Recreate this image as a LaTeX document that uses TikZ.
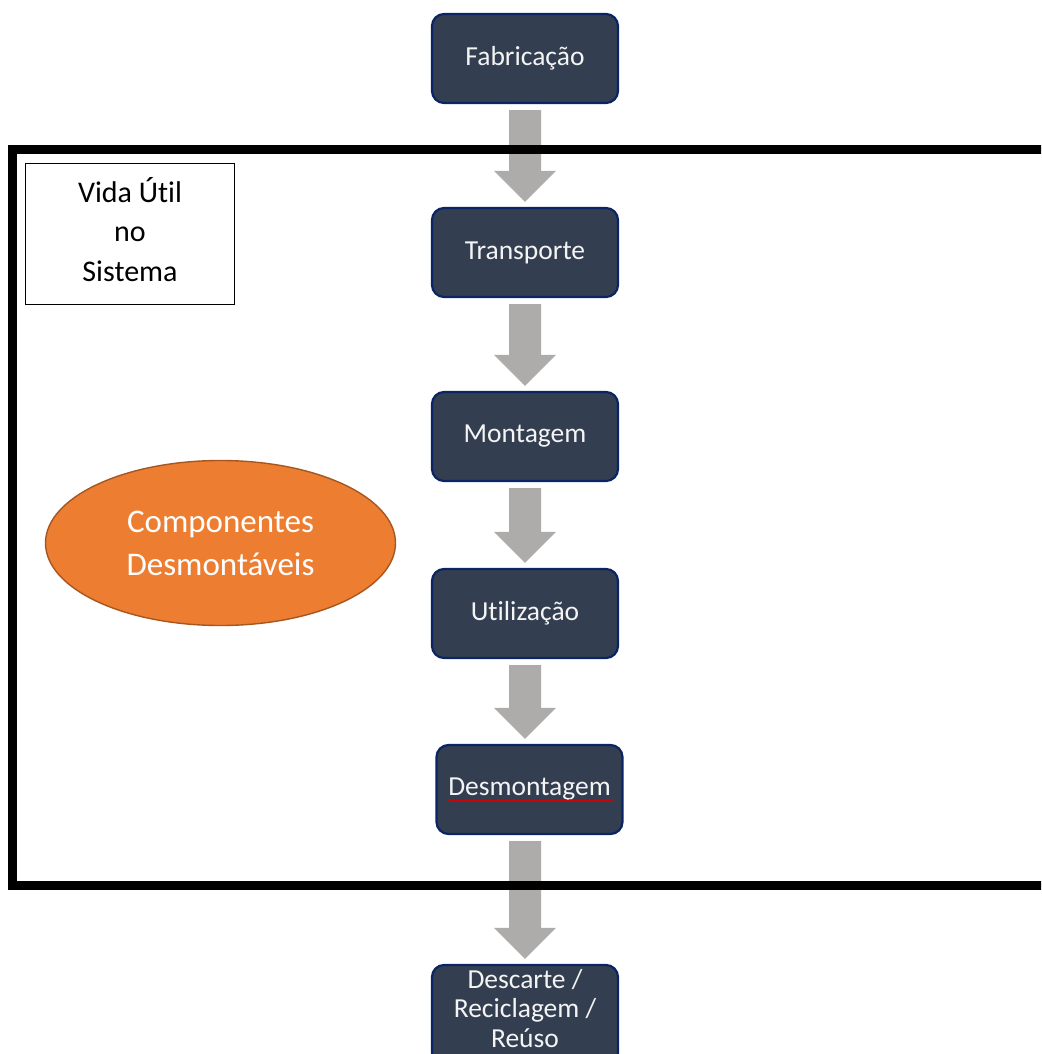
\documentclass[tikz,border=0pt]{standalone}
\usepackage{fontspec}
\setmainfont[Ligatures=NoCommon]{Carlito}
\usetikzlibrary{shapes.geometric,decorations.pathmorphing,calc}
\definecolor{stagefill}{HTML}{333F50}
\definecolor{stageline}{HTML}{0B2464}
\definecolor{flowgray}{HTML}{AEABAB}
\definecolor{orangefill}{HTML}{ED7D31}
\definecolor{orangeline}{HTML}{A65720}
\definecolor{stagetext}{HTML}{F4F4F4}

% gray block arrow from the bottom of one stage to the top of the next
\newcommand\flowarrow[2]{%
  \coordinate (fa) at (axis |- #1.south);
  \coordinate (fb) at (axis |- #2.north);
  \fill[flowgray] ($(fa)+(-16,6)$) -- ($(fa)+(16,6)$) -- ($(fb)+(16,-36)$)
    -- ($(fb)+(31,-36)$) -- ($(fb)+(0,-5)$) -- ($(fb)+(-31,-36)$)
    -- ($(fb)+(-16,-36)$) -- cycle;}

\begin{document}
\begin{tikzpicture}[x=1pt,y=-1pt,
  stage/.style={draw=stageline, line width=2.2pt, fill=stagefill,
    rounded corners=12pt, minimum width=186pt, minimum height=89pt,
    inner sep=0pt, align=center, text=stagetext,
    font=\fontsize{27.5}{29.5}\selectfont},
  lifebox/.style={draw=black, line width=1.6pt, minimum width=209pt,
    minimum height=141pt, inner sep=0pt, align=center,
    font=\fontsize{30}{39.5}\selectfont},
  partsoval/.style={ellipse, draw=orangeline, line width=1.4pt,
    fill=orangefill, minimum width=350pt, minimum height=165pt,
    inner sep=0pt, align=center, text=white,
    font=\fontsize{33}{43}\selectfont},
  frameline/.style={line width=9pt, draw=black}]

\useasboundingbox (0,0) rectangle (1041,1054);
\clip (0,0) rectangle (1041,1054);

\coordinate (axis) at (525,0);

% life-cycle stages
\node[stage] (fab) at (525,58.5) {Fabricação};
\node[stage] (tra) at (525,252.5) {Transporte};
\node[stage] (mon) at (525,436.5) {Montagem};
\node[stage] (uti) at (525,613.5) {Utilização};
\node[stage] (dsm) at (529.5,789.5) {Desmontagem};
\node[stage, minimum height=100pt] (dsc) at (525,1015)
  {\raisebox{-3pt}[0pt][0pt]{\begin{tabular}{@{}c@{}}Descarte /\\Reciclagem /\\Reúso\end{tabular}}};

% spell-check squiggle under the word
\draw[red!85!black, line width=0.9pt, decorate,
  decoration={snake, amplitude=1.1pt, segment length=4pt}]
  ($(dsm.center)+(-81,11)$) -- ($(dsm.center)+(83,11)$);

% flow between stages
\flowarrow{fab}{tra}
\flowarrow{tra}{mon}
\flowarrow{mon}{uti}
\flowarrow{uti}{dsm}
\flowarrow{dsm}{dsc}

% system boundary (open to the right)
\draw[frameline] (1060,885) -- (12.5,885) -- (12.5,149) -- (1060,149);

\node[lifebox] (vida) at (130,234) {\raisebox{3pt}{\begin{tabular}{@{}c@{}}Vida Útil\\no\\Sistema\end{tabular}}};
\node[partsoval] (comp) at (220.5,543) {Componentes\\Desmontáveis};

\end{tikzpicture}
\end{document}
